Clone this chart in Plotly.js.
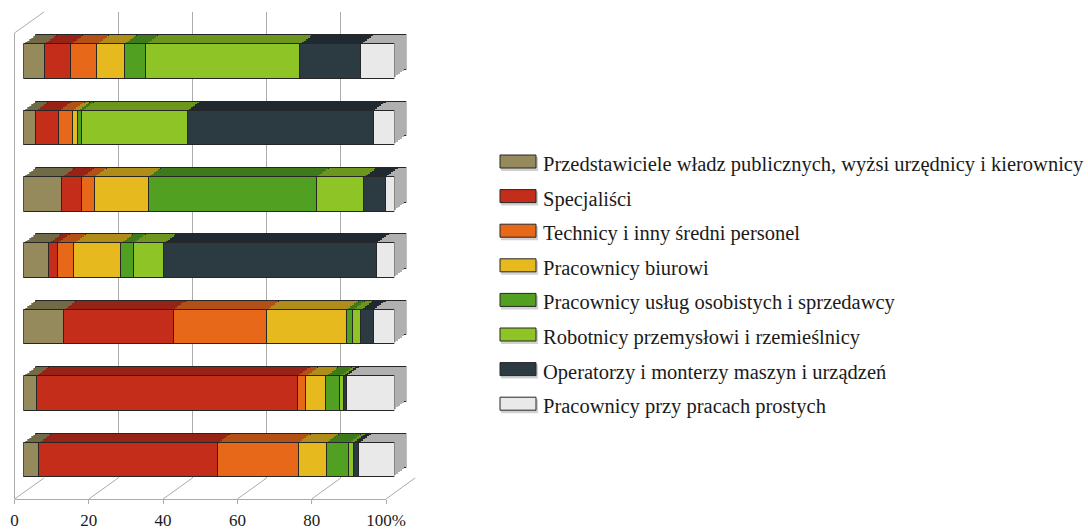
<!DOCTYPE html>
<html><head><meta charset="utf-8">
<script src="https://cdn.plot.ly/plotly-3.0.1.min.js"></script>
<style>html,body{margin:0;padding:0;background:#fff}#chart{width:1088px;height:529px}</style>
</head><body><div id="chart"></div>
<script>
// ---------- DATA (bars listed top to bottom, shares in %) ----------
const rows = [1, 2, 3, 4, 5, 6, 7];
const seriesNames = [
  'Przedstawiciele władz publicznych, wyżsi urzędnicy i kierownicy',
  'Specjaliści',
  'Technicy i inny średni personel',
  'Pracownicy biurowi',
  'Pracownicy usług osobistych i sprzedawcy',
  'Robotnicy przemysłowi i rzemieślnicy',
  'Operatorzy i monterzy maszyn i urządzeń',
  'Pracownicy przy pracach prostych'
];
const przedstawiciele = [5.7, 3.4, 10.4, 6.8, 10.9, 3.5, 4.2];
const specjalisci     = [7.1, 6.2, 5.3, 2.4, 29.5, 70.4, 48.2];
const technicy        = [7.0, 3.6, 3.4, 4.4, 25.2, 2.2, 21.7];
const biurowi         = [7.4, 1.5, 14.6, 12.7, 21.4, 5.4, 7.5];
const uslugi          = [5.8, 1.0, 45.2, 3.4, 1.8, 3.8, 6.1];
const robotnicy       = [41.5, 28.5, 12.9, 8.1, 2.2, 0.9, 1.3];
const operatorzy      = [16.4, 50.1, 5.8, 57.4, 3.3, 0.9, 1.4];
const proste          = [9.1, 5.7, 2.4, 4.8, 5.7, 12.9, 9.6];
const tickVals   = [0, 20, 40, 60, 80, 100];
const tickLabels = ['0', '20', '40', '60', '80', '100%'];

const seriesValues = [przedstawiciele, specjalisci, technicy, biurowi, uslugi, robotnicy, operatorzy, proste];

// ---------- STYLE ----------
const faceColors = ['#958a5b', '#c52d1b', '#e8681a', '#e6b91f', '#52a022', '#8fc427', '#2c3a42', '#e9e9e9'];
const topColors  = ['#716a46', '#962316', '#b25015', '#b08d18', '#3e7a1a', '#6c961d', '#1f292f', '#b0b0b0'];
const serif = 'Liberation Serif, Times New Roman, serif';

const W = 1088, H = 529;
const px = x => x / W;
const py = y => 1 - y / H;

const frontBars = {x0: 23.3, x1: 394.3, yTop: 27.8, yBot: 492.7};
const depth = {dx: 12, dy: -9};
const N = 6;
const frameFront = {x0: 14.5, x1: 386, y: 499, top: 33};
const frameBack = {x0: 44, x1: 415, yTop: 12, yBot: 478};
const gridColor = '#ababab';

const layout = {
  width: W, height: H,
  margin: {l: 0, r: 0, t: 0, b: 0},
  paper_bgcolor: '#ffffff', plot_bgcolor: 'rgba(0,0,0,0)',
  barmode: 'stack', bargap: 0.48,
  showlegend: false,
  shapes: [], annotations: [],
  // axis 1: front axis with ticks and labels
  xaxis: {
    domain: [px(frameFront.x0), px(frameFront.x1)], range: [0, 100], anchor: 'y',
    showline: true, linecolor: gridColor, linewidth: 1,
    ticks: 'outside', ticklen: 4, tickcolor: gridColor, tickwidth: 1,
    tickmode: 'array', tickvals: tickVals, ticktext: tickLabels,
    ticklabelstandoff: 2,
    tickfont: {family: serif, size: 17, color: '#1a1a1a'},
    showgrid: false, zeroline: false, fixedrange: true
  },
  yaxis: {domain: [py(frameFront.y), py(frameBack.yTop)], range: [0, 1], visible: false, fixedrange: true},
  // axis 2: back wall gridlines
  xaxis2: {
    domain: [px(frameBack.x0), px(frameBack.x1)], range: [0, 100], anchor: 'y2',
    tickmode: 'array', tickvals: tickVals, showticklabels: false, ticks: '',
    showgrid: true, gridcolor: gridColor, gridwidth: 1, zeroline: false, showline: false, fixedrange: true
  },
  yaxis2: {domain: [py(frameBack.yBot), py(frameBack.yTop)], range: [0, 1], visible: false, fixedrange: true}
};

const traces = [
  {type: 'scatter', x: [], y: [], xaxis: 'x', yaxis: 'y', showlegend: false, hoverinfo: 'skip'},
  {type: 'scatter', x: [], y: [], xaxis: 'x2', yaxis: 'y2', showlegend: false, hoverinfo: 'skip'}
];

// depth copies (far -> near), then the front faces
for (let k = N; k >= 0; k--) {
  const ai = 3 + (N - k);
  const ox = depth.dx * k / N, oy = depth.dy * k / N;
  layout['xaxis' + ai] = {
    domain: [px(frontBars.x0 + ox), px(frontBars.x1 + ox)], range: [0, 100], anchor: 'y' + ai,
    visible: false, fixedrange: true
  };
  layout['yaxis' + ai] = {
    domain: [py(frontBars.yBot + oy), py(frontBars.yTop + oy)], range: [7.5, 0.5], anchor: 'x' + ai,
    visible: false, fixedrange: true
  };
  seriesValues.forEach((vals, i) => {
    const isFront = k === 0, isFar = k === N;
    traces.push({
      type: 'bar', orientation: 'h', x: vals, y: rows,
      xaxis: 'x' + ai, yaxis: 'y' + ai, name: seriesNames[i],
      marker: {
        color: isFront ? faceColors[i] : topColors[i],
        line: {color: (isFront || isFar) ? '#262626' : topColors[i], width: (isFront || isFar) ? 1 : 0}
      },
      showlegend: false, hoverinfo: isFront ? 'x+name' : 'skip'
    });
  });
}

// frame lines (left wall + floor diagonals)
const lineStyle = {color: gridColor, width: 1};
const fx = v => frameFront.x0 + v / 100 * (frameFront.x1 - frameFront.x0);
const bx = v => frameBack.x0 + v / 100 * (frameBack.x1 - frameBack.x0);
tickVals.forEach(v => {
  layout.shapes.push({type: 'line', xref: 'paper', yref: 'paper', layer: 'below',
    x0: px(fx(v)), y0: py(frameFront.y), x1: px(bx(v)), y1: py(frameBack.yBot), line: lineStyle});
});
layout.shapes.push({type: 'line', xref: 'paper', yref: 'paper', layer: 'below',
  x0: px(fx(0)), y0: py(frameFront.y), x1: px(fx(0)), y1: py(frameFront.top), line: lineStyle});
layout.shapes.push({type: 'line', xref: 'paper', yref: 'paper', layer: 'below',
  x0: px(fx(0)), y0: py(frameFront.top), x1: px(bx(0)), y1: py(frameBack.yTop), line: lineStyle});

// legend
const leg = {x0: 500, x1: 536, top: 155, h: 13, step: 34.6, textX: 541};
seriesNames.forEach((name, i) => {
  const t = leg.top + i * leg.step;
  layout.shapes.push({type: 'rect', xref: 'paper', yref: 'paper',
    x0: px(leg.x0 + 1), x1: px(leg.x1 + 2), y0: py(t + leg.h + 3), y1: py(t + 2),
    fillcolor: 'rgba(0,0,0,0.18)', line: {width: 0}});
  layout.shapes.push({type: 'rect', xref: 'paper', yref: 'paper',
    x0: px(leg.x0), x1: px(leg.x1), y0: py(t + leg.h), y1: py(t),
    fillcolor: faceColors[i], line: {color: '#262626', width: 1}});
  layout.annotations.push({xref: 'paper', yref: 'paper', x: px(leg.textX), y: py(t + leg.h / 2 + 3),
    xanchor: 'left', yanchor: 'middle', showarrow: false, text: name,
    font: {family: serif, size: 20.5, color: '#1a1a1a'}});
});

Plotly.newPlot('chart', traces, layout, {displayModeBar: false, staticPlot: true});
</script></body></html>
